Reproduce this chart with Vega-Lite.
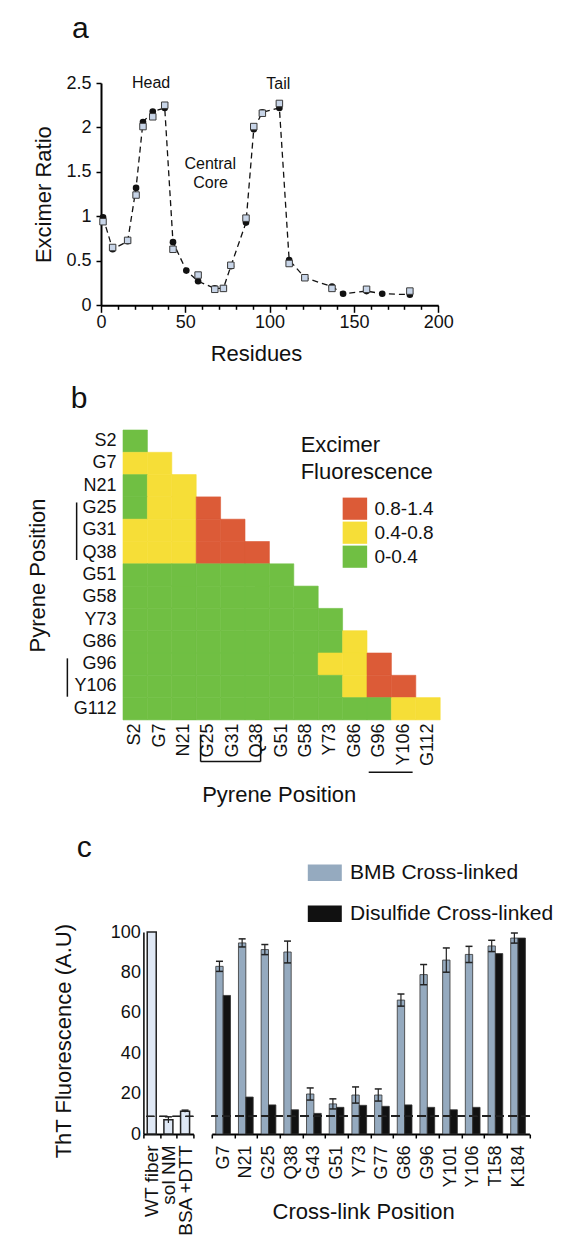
{
  "$schema": "https://vega.github.io/schema/vega-lite/v6.json",
  "padding": {"top": 14, "left": 0, "right": 5, "bottom": 5},
  "spacing": 10,
  "config": {
    "font": "Liberation Sans",
    "view": {"stroke": null},
    "axis": {"grid": false, "domainColor": "#000", "tickColor": "#000", "labelColor": "#111", "titleColor": "#111", "labelFontSize": 18, "titleFontSize": 22, "titleFontWeight": "normal"},
    "title": {"fontSize": 30, "fontWeight": "normal", "anchor": "start", "frame": "group", "color": "#111"},
    "legend": {"labelColor": "#111", "titleColor": "#111"}
  },
  "resolve": {"scale": {"color": "independent"}},
  "vconcat": [
    {
      "bounds": "flush",
      "spacing": 0,
      "hconcat": [
        {"width": 100.5, "height": 1, "data": {"values": []}, "mark": "point"},
        {
          "width": 337.2,
          "height": 222.3,
          "title": {"text": "a", "dx": -29, "offset": 29.7},
          "data": {"values": [
            {"residue": 1.2, "ratio": 0.99, "s": "A"}, {"residue": 6.9, "ratio": 0.63, "s": "A"}, {"residue": 15.8, "ratio": 0.72, "s": "A"},
            {"residue": 20.8, "ratio": 1.32, "s": "A"}, {"residue": 24.9, "ratio": 2.06, "s": "A"}, {"residue": 30.7, "ratio": 2.18, "s": "A"},
            {"residue": 37.8, "ratio": 2.22, "s": "A"}, {"residue": 42.7, "ratio": 0.71, "s": "A"}, {"residue": 50.6, "ratio": 0.39, "s": "A"},
            {"residue": 57.6, "ratio": 0.27, "s": "A"}, {"residue": 67.5, "ratio": 0.19, "s": "A"}, {"residue": 72.6, "ratio": 0.19, "s": "A"},
            {"residue": 77, "ratio": 0.44, "s": "A"}, {"residue": 86, "ratio": 0.93, "s": "A"}, {"residue": 90.6, "ratio": 1.98, "s": "A"},
            {"residue": 95.7, "ratio": 2.17, "s": "A"}, {"residue": 105.8, "ratio": 2.22, "s": "A"}, {"residue": 111.6, "ratio": 0.51, "s": "A"},
            {"residue": 120.9, "ratio": 0.31, "s": "A"}, {"residue": 137, "ratio": 0.21, "s": "A"}, {"residue": 143.6, "ratio": 0.13, "s": "A"},
            {"residue": 157.5, "ratio": 0.16, "s": "A"}, {"residue": 166.8, "ratio": 0.13, "s": "A"}, {"residue": 183.2, "ratio": 0.12, "s": "A"},
            {"residue": 1.2, "ratio": 0.94, "s": "B"}, {"residue": 6.9, "ratio": 0.65, "s": "B"}, {"residue": 15.8, "ratio": 0.73, "s": "B"},
            {"residue": 20.8, "ratio": 1.24, "s": "B"}, {"residue": 24.9, "ratio": 2.01, "s": "B"}, {"residue": 30.7, "ratio": 2.12, "s": "B"},
            {"residue": 37.8, "ratio": 2.25, "s": "B"}, {"residue": 42.7, "ratio": 0.63, "s": "B"}, {"residue": 57.6, "ratio": 0.34, "s": "B"},
            {"residue": 67.5, "ratio": 0.18, "s": "B"}, {"residue": 72.6, "ratio": 0.19, "s": "B"}, {"residue": 77, "ratio": 0.45, "s": "B"},
            {"residue": 86, "ratio": 0.98, "s": "B"}, {"residue": 90.6, "ratio": 2.01, "s": "B"}, {"residue": 95.7, "ratio": 2.16, "s": "B"},
            {"residue": 105.8, "ratio": 2.27, "s": "B"}, {"residue": 111.6, "ratio": 0.47, "s": "B"}, {"residue": 120.9, "ratio": 0.31, "s": "B"},
            {"residue": 137, "ratio": 0.19, "s": "B"}, {"residue": 157.5, "ratio": 0.18, "s": "B"}, {"residue": 183.2, "ratio": 0.16, "s": "B"}
          ]},
          "resolve": {"axis": {"x": "independent"}},
          "layer": [
            {
              "transform": [{"filter": "datum.s === 'A'"}],
              "mark": {"type": "line", "strokeDash": [6, 4], "color": "#111", "strokeWidth": 1.3},
              "encoding": {
                "x": {"field": "residue", "type": "quantitative", "scale": {"domain": [0, 200], "nice": false},
                  "axis": {"orient": "bottom", "title": "Residues", "values": [0, 50, 100, 150, 200],
                    "tickSize": 7, "tickWidth": 1.5, "domainWidth": 2, "labelPadding": 1, "labelFlush": false, "labelOverlap": false,
                    "minExtent": 68, "maxExtent": 300, "titleX": 155, "titleY": 55, "titleBaseline": "alphabetic", "titleAlign": "center"}},
                "y": {"field": "ratio", "type": "quantitative", "scale": {"domain": [0, 2.5], "nice": false},
                  "axis": {"title": "Excimer Ratio", "values": [0, 0.5, 1, 1.5, 2, 2.5], "format": "~g", "tickSize": 5, "tickWidth": 1.5,
                    "domainWidth": 2, "labelPadding": 5, "labelFlush": false, "minExtent": 100.5, "maxExtent": 300,
                    "titleX": -50.5, "titleBaseline": "alphabetic"}}
              }
            },
            {
              "transform": [{"filter": "datum.s === 'A'"}],
              "mark": {"type": "point", "shape": "circle", "filled": true, "fill": "#111", "size": 44, "opacity": 1, "strokeWidth": 0},
              "encoding": {
                "x": {"field": "residue", "type": "quantitative",
                  "axis": {"orient": "bottom", "title": null, "values": [10, 20, 30, 40, 60, 70, 80, 90, 110, 120, 130, 140, 160, 170, 180, 190],
                    "labels": false, "domain": false, "tickSize": 4, "tickWidth": 1.5, "minExtent": 0}},
                "y": {"field": "ratio", "type": "quantitative"}
              }
            },
            {
              "transform": [{"filter": "datum.s === 'B'"}],
              "mark": {"type": "point", "shape": "square", "filled": true, "fill": "#c8d5e8", "stroke": "#3a3a3a", "strokeWidth": 1, "size": 42, "opacity": 1},
              "encoding": {"x": {"field": "residue", "type": "quantitative", "axis": null}, "y": {"field": "ratio", "type": "quantitative"}}
            },
            {
              "data": {"values": [
                {"residue": 29.7, "ratio": 2.44, "label": "Head"},
                {"residue": 105.2, "ratio": 2.43, "label": "Tail"},
                {"residue": 64.8, "ratio": 1.53, "label": "Central"},
                {"residue": 65.0, "ratio": 1.32, "label": "Core"}
              ]},
              "mark": {"type": "text", "fontSize": 16, "align": "center", "baseline": "alphabetic", "color": "#111"},
              "encoding": {"x": {"field": "residue", "type": "quantitative", "axis": null}, "y": {"field": "ratio", "type": "quantitative"}, "text": {"field": "label"}}
            }
          ]
        }
      ]
    },
    {
      "bounds": "flush",
      "spacing": 0,
      "resolve": {"scale": {"color": "independent"}},
      "hconcat": [
        {"width": 122.3, "height": 1, "data": {"values": []}, "mark": "point"},
        {
          "width": 317.2,
          "height": 289.9,
          "title": {"text": "b", "dx": -52.3, "offset": 15.3},
          "resolve": {"scale": {"x": "independent", "y": "independent"}},
          "layer": [
            {
              "data": {"values": [
                {"row":"S2","col":"S2","v":"0-0.4"},
                {"row":"G7","col":"S2","v":"0.4-0.8"},{"row":"G7","col":"G7","v":"0.4-0.8"},
                {"row":"N21","col":"S2","v":"0-0.4"},{"row":"N21","col":"G7","v":"0.4-0.8"},{"row":"N21","col":"N21","v":"0.4-0.8"},
                {"row":"G25","col":"S2","v":"0-0.4"},{"row":"G25","col":"G7","v":"0.4-0.8"},{"row":"G25","col":"N21","v":"0.4-0.8"},{"row":"G25","col":"G25","v":"0.8-1.4"},
                {"row":"G31","col":"S2","v":"0.4-0.8"},{"row":"G31","col":"G7","v":"0.4-0.8"},{"row":"G31","col":"N21","v":"0.4-0.8"},{"row":"G31","col":"G25","v":"0.8-1.4"},{"row":"G31","col":"G31","v":"0.8-1.4"},
                {"row":"Q38","col":"S2","v":"0.4-0.8"},{"row":"Q38","col":"G7","v":"0.4-0.8"},{"row":"Q38","col":"N21","v":"0.4-0.8"},{"row":"Q38","col":"G25","v":"0.8-1.4"},{"row":"Q38","col":"G31","v":"0.8-1.4"},{"row":"Q38","col":"Q38","v":"0.8-1.4"},
                {"row":"G51","col":"S2","v":"0-0.4"},{"row":"G51","col":"G7","v":"0-0.4"},{"row":"G51","col":"N21","v":"0-0.4"},{"row":"G51","col":"G25","v":"0-0.4"},{"row":"G51","col":"G31","v":"0-0.4"},{"row":"G51","col":"Q38","v":"0-0.4"},{"row":"G51","col":"G51","v":"0-0.4"},
                {"row":"G58","col":"S2","v":"0-0.4"},{"row":"G58","col":"G7","v":"0-0.4"},{"row":"G58","col":"N21","v":"0-0.4"},{"row":"G58","col":"G25","v":"0-0.4"},{"row":"G58","col":"G31","v":"0-0.4"},{"row":"G58","col":"Q38","v":"0-0.4"},{"row":"G58","col":"G51","v":"0-0.4"},{"row":"G58","col":"G58","v":"0-0.4"},
                {"row":"Y73","col":"S2","v":"0-0.4"},{"row":"Y73","col":"G7","v":"0-0.4"},{"row":"Y73","col":"N21","v":"0-0.4"},{"row":"Y73","col":"G25","v":"0-0.4"},{"row":"Y73","col":"G31","v":"0-0.4"},{"row":"Y73","col":"Q38","v":"0-0.4"},{"row":"Y73","col":"G51","v":"0-0.4"},{"row":"Y73","col":"G58","v":"0-0.4"},{"row":"Y73","col":"Y73","v":"0-0.4"},
                {"row":"G86","col":"S2","v":"0-0.4"},{"row":"G86","col":"G7","v":"0-0.4"},{"row":"G86","col":"N21","v":"0-0.4"},{"row":"G86","col":"G25","v":"0-0.4"},{"row":"G86","col":"G31","v":"0-0.4"},{"row":"G86","col":"Q38","v":"0-0.4"},{"row":"G86","col":"G51","v":"0-0.4"},{"row":"G86","col":"G58","v":"0-0.4"},{"row":"G86","col":"Y73","v":"0-0.4"},{"row":"G86","col":"G86","v":"0.4-0.8"},
                {"row":"G96","col":"S2","v":"0-0.4"},{"row":"G96","col":"G7","v":"0-0.4"},{"row":"G96","col":"N21","v":"0-0.4"},{"row":"G96","col":"G25","v":"0-0.4"},{"row":"G96","col":"G31","v":"0-0.4"},{"row":"G96","col":"Q38","v":"0-0.4"},{"row":"G96","col":"G51","v":"0-0.4"},{"row":"G96","col":"G58","v":"0-0.4"},{"row":"G96","col":"Y73","v":"0.4-0.8"},{"row":"G96","col":"G86","v":"0.4-0.8"},{"row":"G96","col":"G96","v":"0.8-1.4"},
                {"row":"Y106","col":"S2","v":"0-0.4"},{"row":"Y106","col":"G7","v":"0-0.4"},{"row":"Y106","col":"N21","v":"0-0.4"},{"row":"Y106","col":"G25","v":"0-0.4"},{"row":"Y106","col":"G31","v":"0-0.4"},{"row":"Y106","col":"Q38","v":"0-0.4"},{"row":"Y106","col":"G51","v":"0-0.4"},{"row":"Y106","col":"G58","v":"0-0.4"},{"row":"Y106","col":"Y73","v":"0-0.4"},{"row":"Y106","col":"G86","v":"0.4-0.8"},{"row":"Y106","col":"G96","v":"0.8-1.4"},{"row":"Y106","col":"Y106","v":"0.8-1.4"},
                {"row":"G112","col":"S2","v":"0-0.4"},{"row":"G112","col":"G7","v":"0-0.4"},{"row":"G112","col":"N21","v":"0-0.4"},{"row":"G112","col":"G25","v":"0-0.4"},{"row":"G112","col":"G31","v":"0-0.4"},{"row":"G112","col":"Q38","v":"0-0.4"},{"row":"G112","col":"G51","v":"0-0.4"},{"row":"G112","col":"G58","v":"0-0.4"},{"row":"G112","col":"Y73","v":"0-0.4"},{"row":"G112","col":"G86","v":"0-0.4"},{"row":"G112","col":"G96","v":"0-0.4"},{"row":"G112","col":"Y106","v":"0.4-0.8"},{"row":"G112","col":"G112","v":"0.4-0.8"}
              ]},
              "mark": {"type": "rect", "strokeWidth": 0.6},
              "encoding": {
                "x": {"field": "col", "type": "nominal",
                  "scale": {"domain": ["S2","G7","N21","G25","G31","Q38","G51","G58","Y73","G86","G96","Y106","G112"], "paddingInner": 0, "paddingOuter": 0},
                  "axis": {"title": "Pyrene Position", "labelAngle": 270, "labelAlign": "right", "labelBaseline": "middle",
                    "ticks": false, "tickSize": 0, "domain": false, "labelPadding": 3, "labelOverlap": false,
                    "minExtent": 102.7, "maxExtent": 300, "titleX": 155.7, "titleY": 81.7, "titleBaseline": "alphabetic", "titleAlign": "center"}},
                "y": {"field": "row", "type": "nominal",
                  "scale": {"domain": ["S2","G7","N21","G25","G31","Q38","G51","G58","Y73","G86","G96","Y106","G112"], "paddingInner": 0, "paddingOuter": 0},
                  "axis": {"title": "Pyrene Position", "ticks": false, "tickSize": 0, "domain": false, "labelPadding": 7, "labelOverlap": false,
                    "minExtent": 122.3, "maxExtent": 300, "titleX": -78.5, "titleBaseline": "alphabetic"}},
                "color": {"field": "v", "type": "nominal",
                  "scale": {"domain": ["0.8-1.4", "0.4-0.8", "0-0.4"], "range": ["#dc5b37", "#f6de37", "#70bf43"]},
                  "legend": {"orient": "none", "legendX": 219.4, "legendY": 66.2, "title": null,
                    "symbolType": "M-1,-0.906H1V0.906H-1Z", "symbolSize": 600, "symbolStrokeWidth": 0, "symbolOpacity": 1,
                    "labelFontSize": 19, "labelOffset": 7, "rowPadding": 0, "padding": 0}},
                "stroke": {"field": "v", "type": "nominal",
                  "scale": {"domain": ["0.8-1.4", "0.4-0.8", "0-0.4"], "range": ["#dc5b37", "#f6de37", "#70bf43"]},
                  "legend": null}
              }
            },
            {
              "data": {"values": [
                {"bx": -2.4, "bx2": -2.4, "by": 2.75, "by2": 5.33},
                {"bx": -2.78, "bx2": -2.78, "by": 9.74, "by2": 11.46},
                {"bx": 2.68, "bx2": 5.14, "by": 14.37, "by2": 14.37},
                {"bx": 2.68, "bx2": 2.68, "by": 13.16, "by2": 14.37},
                {"bx": 5.14, "bx2": 5.14, "by": 13.16, "by2": 14.37},
                {"bx": 9.57, "bx2": 11.37, "by": 14.85, "by2": 14.85}
              ]},
              "mark": {"type": "rule", "color": "#111", "strokeWidth": 1.5},
              "encoding": {
                "x": {"field": "bx", "type": "quantitative", "scale": {"domain": [-0.5, 12.5], "nice": false, "zero": false}, "axis": null},
                "x2": {"field": "bx2"},
                "y": {"field": "by", "type": "quantitative", "scale": {"domain": [-0.5, 12.5], "nice": false, "zero": false, "reverse": true}, "axis": null},
                "y2": {"field": "by2"}
              }
            },
            {
              "data": {"values": [
                {"bx": 6.78, "by": 0.5, "t": "Excimer"},
                {"bx": 6.78, "by": 1.7, "t": "Fluorescence"}
              ]},
              "mark": {"type": "text", "fontSize": 22, "align": "left", "baseline": "alphabetic", "color": "#111"},
              "encoding": {
                "x": {"field": "bx", "type": "quantitative", "scale": {"domain": [-0.5, 12.5], "nice": false, "zero": false}, "axis": null},
                "y": {"field": "by", "type": "quantitative", "scale": {"domain": [-0.5, 12.5], "nice": false, "zero": false, "reverse": true}, "axis": null},
                "text": {"field": "t"}
              }
            }
          ]
        }
      ]
    },
    {
      "title": {"text": "c", "dx": 76.8, "offset": -7.5},
      "bounds": "flush",
      "spacing": 18.4,
      "resolve": {"scale": {"color": "independent"}},
      "hconcat": [
        {"width": 124.9, "height": 1, "data": {"values": []}, "mark": "point"},
        {
          "width": 50,
          "height": 202,
          "data": {"values": [
            {"cat": "WT fiber", "value": 100},
            {"cat": "sol NM", "value": 7.0, "lo": 5.5, "hi": 8.5},
            {"cat": "BSA +DTT", "value": 11.3, "lo": 10.8, "hi": 11.8}
          ]},
          "layer": [
            {
              "mark": {"type": "bar", "fill": "#dfe8f5", "stroke": "#222", "strokeWidth": 1.5, "width": {"band": 0.54}},
              "encoding": {
                "x": {"field": "cat", "type": "nominal", "sort": null, "scale": {"paddingInner": 0, "paddingOuter": 0},
                  "axis": {"title": null, "labelAngle": 270, "labelAlign": "right", "labelBaseline": "middle", "labelFontSize": 19,
                    "tickBand": "extent", "tickSize": 4, "tickWidth": 1.5, "domainWidth": 2, "labelPadding": 7}},
                "y": {"field": "value", "type": "quantitative", "scale": {"domain": [0, 100], "nice": false},
                  "axis": {"title": "ThT Fluorescence (A.U)", "values": [0, 20, 40, 60, 80, 100], "ticks": false, "tickSize": 0,
                    "labelPadding": 3, "domainWidth": 1.5, "labelFlush": false, "minExtent": 143.3, "maxExtent": 300,
                    "titleX": -73.3, "titleY": 108.7, "titleBaseline": "alphabetic"}}
              }
            },
            {
              "transform": [{"filter": "isValid(datum.lo)"}],
              "mark": {"type": "rule", "color": "#222", "strokeWidth": 1.2},
              "encoding": {"x": {"field": "cat", "type": "nominal", "sort": null}, "y": {"field": "lo", "type": "quantitative"}, "y2": {"field": "hi"}}
            },
            {
              "transform": [{"filter": "isValid(datum.lo)"}],
              "mark": {"type": "tick", "color": "#222", "thickness": 1.5, "size": 7, "opacity": 1},
              "encoding": {"x": {"field": "cat", "type": "nominal", "sort": null}, "y": {"field": "hi", "type": "quantitative"}}
            },
            {
              "mark": {"type": "rule", "strokeDash": [8, 5], "color": "#222", "strokeWidth": 1.2},
              "encoding": {"y": {"datum": 8.7}}
            }
          ]
        },
        {
          "width": 317.6,
          "height": 202,
          "data": {"values": [
            {"pos": "G7", "type": "BMB Cross-linked", "value": 83.0, "lo": 80.5, "hi": 85.5},
            {"pos": "G7", "type": "Disulfide Cross-linked", "value": 68.6},
            {"pos": "N21", "type": "BMB Cross-linked", "value": 94.6, "lo": 92.6, "hi": 96.6},
            {"pos": "N21", "type": "Disulfide Cross-linked", "value": 18.3},
            {"pos": "G25", "type": "BMB Cross-linked", "value": 91.3, "lo": 88.8, "hi": 93.8},
            {"pos": "G25", "type": "Disulfide Cross-linked", "value": 14.4},
            {"pos": "Q38", "type": "BMB Cross-linked", "value": 90.1, "lo": 84.7, "hi": 95.5},
            {"pos": "Q38", "type": "Disulfide Cross-linked", "value": 12.0},
            {"pos": "G43", "type": "BMB Cross-linked", "value": 19.8, "lo": 16.8, "hi": 22.8},
            {"pos": "G43", "type": "Disulfide Cross-linked", "value": 10.2},
            {"pos": "G51", "type": "BMB Cross-linked", "value": 14.9, "lo": 12.4, "hi": 17.4},
            {"pos": "G51", "type": "Disulfide Cross-linked", "value": 13.2},
            {"pos": "Y73", "type": "BMB Cross-linked", "value": 19.3, "lo": 15.3, "hi": 23.3},
            {"pos": "Y73", "type": "Disulfide Cross-linked", "value": 14.2},
            {"pos": "G77", "type": "BMB Cross-linked", "value": 19.3, "lo": 16.3, "hi": 22.3},
            {"pos": "G77", "type": "Disulfide Cross-linked", "value": 13.7},
            {"pos": "G86", "type": "BMB Cross-linked", "value": 66.3, "lo": 63.3, "hi": 69.3},
            {"pos": "G86", "type": "Disulfide Cross-linked", "value": 14.4},
            {"pos": "G96", "type": "BMB Cross-linked", "value": 78.9, "lo": 73.9, "hi": 83.9},
            {"pos": "G96", "type": "Disulfide Cross-linked", "value": 13.2},
            {"pos": "Y101", "type": "BMB Cross-linked", "value": 86.1, "lo": 80.1, "hi": 92.1},
            {"pos": "Y101", "type": "Disulfide Cross-linked", "value": 12.0},
            {"pos": "Y106", "type": "BMB Cross-linked", "value": 88.9, "lo": 84.9, "hi": 92.9},
            {"pos": "Y106", "type": "Disulfide Cross-linked", "value": 13.2},
            {"pos": "T158", "type": "BMB Cross-linked", "value": 93.1, "lo": 90.3, "hi": 95.9},
            {"pos": "T158", "type": "Disulfide Cross-linked", "value": 89.3},
            {"pos": "K184", "type": "BMB Cross-linked", "value": 97.0, "lo": 94.5, "hi": 99.5},
            {"pos": "K184", "type": "Disulfide Cross-linked", "value": 97.0}
          ]},
          "layer": [
            {
              "mark": {"type": "bar", "stroke": "#333", "strokeWidth": 0.8},
              "encoding": {
                "x": {"field": "pos", "type": "nominal", "sort": null, "scale": {"paddingInner": 0, "paddingOuter": 0},
                  "axis": {"title": "Cross-link Position", "labelAngle": 270, "labelAlign": "right", "labelBaseline": "middle",
                    "tickBand": "extent", "tickSize": 4, "tickWidth": 1.5, "domainWidth": 2, "labelPadding": 7,
                    "titleX": 151.3, "titleY": 84.7, "titleBaseline": "alphabetic", "titleAlign": "center"}},
                "xOffset": {"field": "type", "type": "nominal", "scale": {"domain": ["BMB Cross-linked", "Disulfide Cross-linked"], "paddingOuter": 0.54, "paddingInner": 0}},
                "y": {"field": "value", "type": "quantitative", "scale": {"domain": [0, 100], "nice": false}, "axis": null},
                "color": {"field": "type", "type": "nominal",
                  "scale": {"domain": ["BMB Cross-linked", "Disulfide Cross-linked"], "range": ["#95aabf", "#111111"]},
                  "legend": {"orient": "none", "legendX": 96, "legendY": -76.3, "title": null,
                    "symbolType": "M-1,-0.488H1V0.488H-1Z", "symbolSize": 1156, "symbolStrokeWidth": 0, "symbolOpacity": 1,
                    "labelFontSize": 21, "labelOffset": 8.3, "labelLimit": 400, "rowPadding": 14, "padding": 0}}
              }
            },
            {
              "transform": [{"filter": "isValid(datum.lo)"}],
              "mark": {"type": "rule", "color": "#222", "strokeWidth": 1.2},
              "encoding": {
                "x": {"field": "pos", "type": "nominal", "sort": null},
                "xOffset": {"field": "type", "type": "nominal"},
                "y": {"field": "lo", "type": "quantitative"}, "y2": {"field": "hi"}
              }
            },
            {
              "transform": [{"filter": "isValid(datum.lo)"}],
              "mark": {"type": "tick", "color": "#222", "thickness": 1.5, "size": 7, "opacity": 1},
              "encoding": {
                "x": {"field": "pos", "type": "nominal", "sort": null},
                "xOffset": {"field": "type", "type": "nominal"},
                "y": {"field": "hi", "type": "quantitative"}
              }
            },
            {
              "transform": [{"filter": "isValid(datum.lo)"}],
              "mark": {"type": "tick", "color": "#222", "thickness": 1.5, "size": 7, "opacity": 1},
              "encoding": {
                "x": {"field": "pos", "type": "nominal", "sort": null},
                "xOffset": {"field": "type", "type": "nominal"},
                "y": {"field": "lo", "type": "quantitative"}
              }
            },
            {
              "mark": {"type": "rule", "strokeDash": [8, 5], "color": "#222", "strokeWidth": 1.2},
              "encoding": {"y": {"datum": 8.7}}
            }
          ]
        }
      ]
    }
  ]
}
